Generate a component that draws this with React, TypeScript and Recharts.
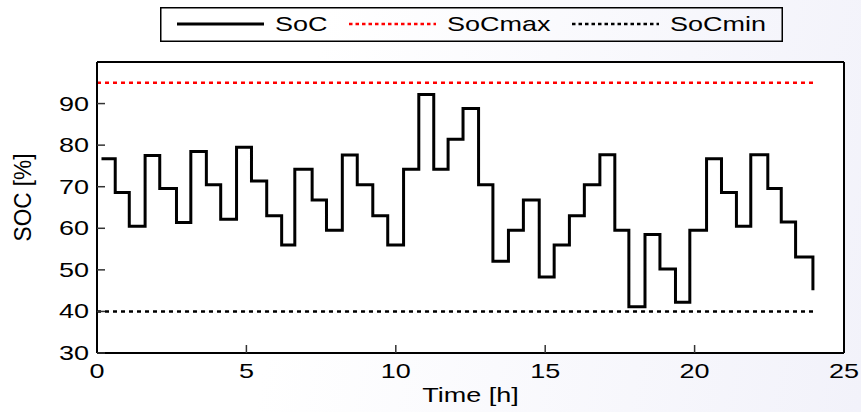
import React from 'react';
import { LineChart, Line, XAxis, YAxis, ReferenceArea, Legend, Label } from 'recharts';

// step start times [h] and SoC level [%] held from each time on
const times = [
   0.15, 0.61, 1.08, 1.61, 2.1, 2.66, 3.14, 3.66, 4.14, 4.67,
   5.17, 5.68, 6.18, 6.62, 7.2, 7.68, 8.21, 8.71, 9.23, 9.73,
   10.26, 10.77, 11.27, 11.75, 12.25, 12.77, 13.25, 13.77, 14.27, 14.8,
   15.3, 15.81, 16.31, 16.83, 17.33, 17.8, 18.34, 18.84, 19.36, 19.84,
   20.4, 20.9, 21.4, 21.88, 22.45, 22.9, 23.38, 23.96,
];
const soc = [
   76.7, 68.6, 60.5, 77.5, 69.6, 61.4, 78.5, 70.5, 62.2, 79.5,
   71.4, 63.0, 56.0, 74.2, 66.8, 59.5, 77.6, 70.5, 63.0, 56.0,
   74.2, 92.2, 74.2, 81.4, 88.8, 70.5, 52.1, 59.5, 66.8, 48.3,
   56.0, 63.0, 70.5, 77.7, 59.5, 41.1, 58.5, 50.2, 42.2, 59.5,
   76.7, 68.6, 60.5, 77.7, 69.6, 61.5, 53.1, 45.1,
];

const limitTimes = [0, 24];
const socMax = [95, 95];
const socMin = [40, 40];

const xTicks = [0, 5, 10, 15, 20, 25];
const yTicks = [30, 40, 50, 60, 70, 80, 90];

const socData = times.map((t, i) => ({ t, soc: soc[i] }));
const maxData = limitTimes.map((t, i) => ({ t, v: socMax[i] }));
const minData = limitTimes.map((t, i) => ({ t, v: socMin[i] }));

const FONT = '"Liberation Sans", Arial, sans-serif';
const STRETCH = 'scale(1.35,1)';

// matlab export looks horizontally stretched, so text is too
const XTick = (props: any) => {
   const { x, y, payload } = props;
   return (
      <g transform={`translate(${x},${y + 25})`}>
         <text transform={STRETCH} textAnchor="middle" fontSize={20} fontFamily={FONT} fill="#000">
            {payload.value}
         </text>
      </g>
   );
};

const YTick = (props: any) => {
   const { x, y, payload } = props;
   return (
      <g transform={`translate(${x - 8},${y + 7})`}>
         <text transform={STRETCH} textAnchor="end" fontSize={20} fontFamily={FONT} fill="#000">
            {payload.value}
         </text>
      </g>
   );
};

const legendItems = [
   { name: 'SoC', color: '#000', dash: undefined, at: 17 },
   { name: 'SoCmax', color: '#ff0000', dash: '3.5 3', at: 189 },
   { name: 'SoCmin', color: '#000', dash: '3.5 3', at: 412 },
];

const LegendBox = () => (
   <svg width={623} height={35} style={{ display: 'block' }}>
      <rect x={0.75} y={0.75} width={621.5} height={33.5} fill="none" stroke="#000" strokeWidth={1.5} />
      {legendItems.map((it) => (
         <g key={it.name}>
            <line
               x1={it.at}
               x2={it.at + 87}
               y1={17}
               y2={17}
               stroke={it.color}
               strokeWidth={it.dash ? 2.5 : 3}
               strokeDasharray={it.dash}
            />
            <g transform={`translate(${it.at + 98},24)`}>
               <text transform={STRETCH} fontSize={20} fontFamily={FONT} fill="#000">
                  {it.name}
               </text>
            </g>
         </g>
      ))}
   </svg>
);

const axisLine = { stroke: '#000', strokeWidth: 2 };
const tickLine = { stroke: '#333', strokeWidth: 1.5 };

export default function App() {
   return (
      <div
         style={{
            width: 861,
            height: 412,
            background: 'linear-gradient(100deg, #ffffff 35%, #f2f2fa 100%)',
         }}
      >
         <style>{`body{margin:0}`}</style>
         <LineChart width={861} height={412} margin={{ top: 61, right: 16, bottom: 0, left: 0 }}>
            <XAxis
               xAxisId="b"
               dataKey="t"
               type="number"
               domain={[0, 25]}
               ticks={xTicks}
               allowDataOverflow
               height={59}
               tickSize={-8}
               tickMargin={8}
               axisLine={axisLine}
               tickLine={tickLine}
               tick={<XTick />}
            >
               <Label
                  content={(p: any) => {
                     const vb = p.viewBox;
                     return (
                        <g transform={`translate(${vb.x + vb.width / 2},${vb.y + 49})`}>
                           <text transform={STRETCH} textAnchor="middle" fontSize={20} fontFamily={FONT} fill="#000">
                              Time [h]
                           </text>
                        </g>
                     );
                  }}
               />
            </XAxis>
            <XAxis
               xAxisId="t"
               orientation="top"
               type="number"
               domain={[0, 25]}
               ticks={xTicks}
               allowDataOverflow
               height={1}
               tickSize={-8}
               axisLine={axisLine}
               tickLine={tickLine}
               tick={false}
            />
            <YAxis
               yAxisId="l"
               type="number"
               domain={[30, 100]}
               ticks={yTicks}
               allowDataOverflow
               width={97}
               tickSize={-8}
               tickMargin={8}
               axisLine={axisLine}
               tickLine={tickLine}
               tick={<YTick />}
            >
               <Label
                  content={(p: any) => {
                     const vb = p.viewBox;
                     return (
                        <g transform={`translate(${vb.x + 23},${vb.y + vb.height / 2 - 10}) scale(1.19,1.13) rotate(-90)`}>
                           <text textAnchor="middle" dominantBaseline="central" fontSize={20} fontFamily={FONT} fill="#000">
                              SOC [%]
                           </text>
                        </g>
                     );
                  }}
               />
            </YAxis>
            <YAxis
               yAxisId="r"
               orientation="right"
               type="number"
               domain={[30, 100]}
               ticks={yTicks}
               allowDataOverflow
               width={1}
               tickSize={-8}
               axisLine={axisLine}
               tickLine={tickLine}
               tick={false}
            />
            <ReferenceArea xAxisId="b" yAxisId="l" x1={0} x2={25} y1={30} y2={100} fill="#ffffff" fillOpacity={1} stroke="none" />
            <Legend
               layout="horizontal"
               verticalAlign="middle"
               align="center"
               wrapperStyle={{ left: 160, top: 7, width: 623 }}
               content={() => <LegendBox />}
            />
            <Line
               xAxisId="b"
               yAxisId="l"
               data={maxData}
               dataKey="v"
               name="SoCmax"
               stroke="#ff0000"
               strokeWidth={2.5}
               strokeDasharray="4 4"
               dot={false}
               isAnimationActive={false}
            />
            <Line
               xAxisId="b"
               yAxisId="l"
               data={minData}
               dataKey="v"
               name="SoCmin"
               stroke="#000"
               strokeWidth={2.5}
               strokeDasharray="4 4"
               dot={false}
               isAnimationActive={false}
            />
            <Line
               xAxisId="b"
               yAxisId="l"
               data={socData}
               dataKey="soc"
               name="SoC"
               type="stepAfter"
               stroke="#000"
               strokeWidth={3}
               dot={false}
               isAnimationActive={false}
            />
         </LineChart>
      </div>
   );
}
